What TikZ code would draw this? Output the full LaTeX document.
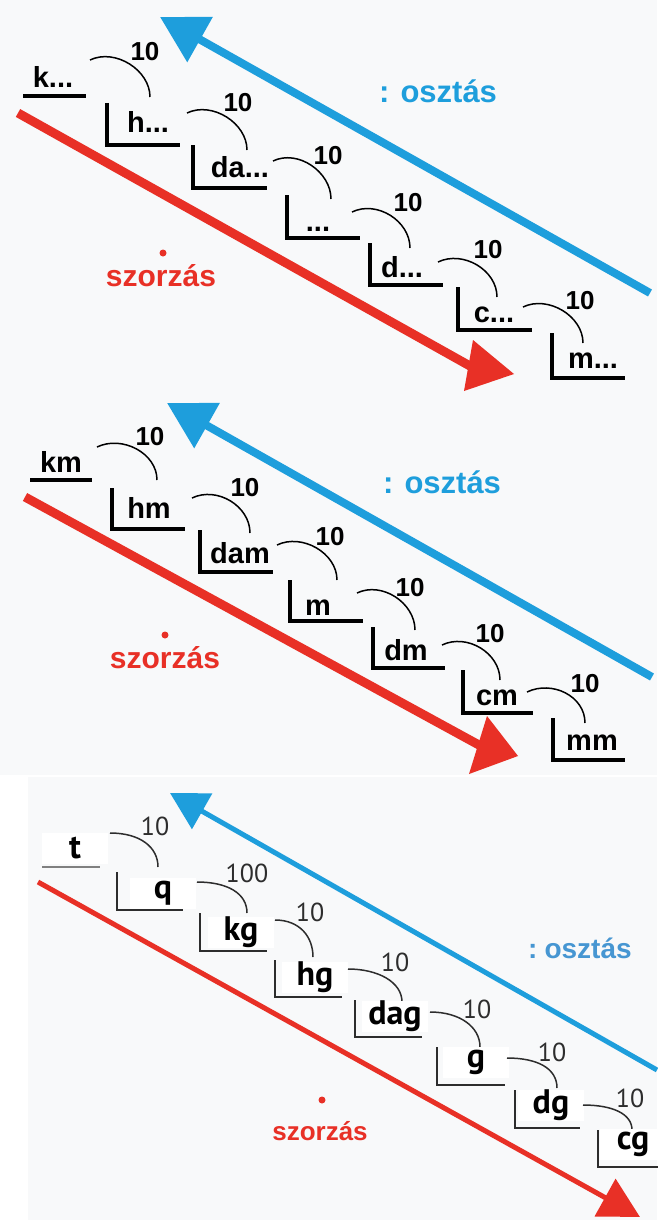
\documentclass[tikz,border=0pt]{standalone}
\usepackage{fontspec}
\setmainfont{Liberation Sans}
\newfontfamily\ptsans{PT Sans}
\usetikzlibrary{arrows.meta}
\definecolor{kek}{RGB}{30,158,220}
\definecolor{halvanykek}{RGB}{70,150,210}
\definecolor{piros}{RGB}{232,48,38}
\definecolor{hatter}{RGB}{248,249,250}
\definecolor{sotet}{RGB}{45,45,45}
\begin{document}
\begin{tikzpicture}[x=1pt,y=-1pt,
  egyseg/.style={font=\fontsize{29}{32}\selectfont\bfseries,anchor=base,inner sep=0pt},
  tiz/.style={font=\fontsize{26}{28}\selectfont\bfseries,inner sep=0pt},
  lepcso/.style={line width=3.2pt},
  ivek/.style={line width=1.5pt},
  oszt/.style={font=\fontsize{31}{34}\selectfont\bfseries,text=kek,anchor=base west,inner sep=0pt},
  szor/.style={font=\fontsize{30}{33}\selectfont\bfseries,text=piros,anchor=base,inner sep=0pt},
  pont/.style={circle,fill=piros,inner sep=0pt,minimum size=7pt},
  felfele/.style={draw=kek,line width=8pt,-{Triangle[length=46pt,width=50pt]}},
  lefele/.style={draw=piros,line width=9pt},
  hegy/.style={fill=piros},
  egyseg3/.style={font={\ptsans\bfseries\fontsize{34}{36}\selectfont},fill=white,minimum width=66pt,minimum height=31pt,inner sep=0pt},
  tiz3/.style={font={\ptsans\fontsize{26}{28}\selectfont},text=sotet,inner sep=0pt},
  lepcso3/.style={draw=sotet,line width=2pt},
  ivek3/.style={draw=sotet,line width=1.5pt},
  felfele3/.style={draw=kek,line width=5pt,-{Triangle[length=37pt,width=40pt]}},
  lefele3/.style={draw=piros,line width=5pt,-{Triangle[length=40pt,width=42pt]}},
  oszt3/.style={font=\fontsize{28}{30}\selectfont\bfseries,text=halvanykek,anchor=base west,inner sep=0pt},
  szor3/.style={font=\fontsize{26}{28}\selectfont\bfseries,text=piros,anchor=base,inner sep=0pt}]
\useasboundingbox (0,0) rectangle (657,1220);
\fill[hatter] (0,0) rectangle (657,775);
\fill[hatter] (28,777) rectangle (657,1220);

\coordinate (kek1a) at (650,293);
\coordinate (kek1b) at (160,17);
\coordinate (piros1a) at (18,113);
\coordinate (piros1b) at (470,366);
\coordinate (hegy1a) at (473,340);
\coordinate (hegy1b) at (514,374);
\coordinate (hegy1c) at (464,391);
\draw[felfele] (kek1a) -- (kek1b);
\draw[lefele] (piros1a) -- (piros1b);
\fill[hegy] (hegy1a) -- (hegy1b) -- (hegy1c) -- cycle;
\node[oszt] (oszt1) at (379,103) {:\hspace{11pt}osztás};
\node[pont] (pont1) at (163,253) {};
\node[szor] (szor1) at (161,286) {szorzás};
\draw[lepcso] (23,96) -- (86,96);
\node[egyseg] (k1) at (53,88) {k...};
\draw[ivek] (90,60) .. controls +(25,-12) and +(0,-27) .. (150,97);
\node[tiz] (k1t) at (145,52) {10};
\draw[lepcso] (107,103) |- (180,145);
\node[egyseg] (h1) at (148,132) {h...};
\draw[ivek] (187,113) .. controls +(25,-12) and +(0,-27) .. (247,150);
\node[tiz] (h1t) at (238,103) {10};
\draw[lepcso] (193,145) |- (267,188);
\node[egyseg] (da1) at (240,177) {da...};
\draw[ivek] (273,161) .. controls +(25,-12) and +(0,-27) .. (331,199);
\node[tiz] (da1t) at (328,156) {10};
\draw[lepcso] (287,195) |- (360,238);
\node[egyseg] (x1) at (318,231) {...};
\draw[ivek] (352,212) .. controls +(25,-12) and +(0,-27) .. (410,248);
\node[tiz] (x1t) at (408,203) {10};
\draw[lepcso] (370,243) |- (443,285);
\node[egyseg] (d1) at (402,277) {d...};
\draw[ivek] (438,262) .. controls +(25,-12) and +(0,-27) .. (497,297);
\node[tiz] (d1t) at (488,250) {10};
\draw[lepcso] (458,287) |- (532,330);
\node[egyseg] (c1) at (494,322) {c...};
\draw[ivek] (523,307) .. controls +(25,-12) and +(0,-27) .. (583,343);
\node[tiz] (c1t) at (580,301) {10};
\draw[lepcso] (552,333) |- (625,378);
\node[egyseg] (m1) at (593,368) {m...};

\coordinate (kek2a) at (652,677);
\coordinate (kek2b) at (167,403);
\coordinate (piros2a) at (25,497);
\coordinate (piros2b) at (479,745);
\coordinate (hegy2a) at (487,716);
\coordinate (hegy2b) at (518,756);
\coordinate (hegy2c) at (469,774);
\draw[felfele] (kek2a) -- (kek2b);
\draw[lefele] (piros2a) -- (piros2b);
\fill[hegy] (hegy2a) -- (hegy2b) -- (hegy2c) -- cycle;
\node[oszt] (oszt2) at (383,493) {:\hspace{11pt}osztás};
\node[pont] (pont2) at (165,635) {};
\node[szor] (szor2) at (165,668) {szorzás};
\draw[lepcso] (30,480) -- (92,480);
\node[egyseg] (km) at (61,472) {km};
\draw[ivek] (97,447) .. controls +(25,-12) and +(0,-27) .. (157,480);
\node[tiz] (kmt) at (150,437) {10};
\draw[lepcso] (112,488) |- (185,529);
\node[egyseg] (hm) at (149,518) {hm};
\draw[ivek] (192,498) .. controls +(25,-12) and +(0,-27) .. (250,533);
\node[tiz] (hmt) at (245,488) {10};
\draw[lepcso] (200,530) |- (273,572);
\node[egyseg] (dam) at (240,563) {dam};
\draw[ivek] (277,545) .. controls +(25,-12) and +(0,-27) .. (337,580);
\node[tiz] (damt) at (330,537) {10};
\draw[lepcso] (290,580) |- (363,621);
\node[egyseg] (m) at (318,615) {m};
\draw[ivek] (357,593) .. controls +(25,-12) and +(0,-27) .. (415,630);
\node[tiz] (mt) at (410,588) {10};
\draw[lepcso] (373,627) |- (445,668);
\node[egyseg] (dm) at (406,660) {dm};
\draw[ivek] (442,645) .. controls +(25,-12) and +(0,-27) .. (500,680);
\node[tiz] (dmt) at (490,634) {10};
\draw[lepcso] (463,670) |- (533,713);
\node[egyseg] (cm) at (497,705) {cm};
\draw[ivek] (527,692) .. controls +(25,-12) and +(0,-27) .. (585,723);
\node[tiz] (cmt) at (585,684) {10};
\draw[lepcso] (553,718) |- (625,760);
\node[egyseg] (mm) at (592,750) {mm};

\coordinate (kek3a) at (657,1070);
\coordinate (kek3b) at (170,793);
\coordinate (piros3a) at (38,882);
\coordinate (piros3b) at (640,1217);
\draw[felfele3] (kek3a) -- (kek3b);
\draw[lefele3] (piros3a) -- (piros3b);
\node[oszt3] (oszt3) at (528,958) {:\hspace{7pt}osztás};
\node[pont] (pont3) at (322,1100) {};
\node[szor3] (szor3) at (320,1140) {szorzás};
\draw[lepcso3,draw=gray] (42,867) -- (100,867);
\node[egyseg3] (t) at (75,848) {t};
\draw[ivek3] (110,833) .. controls +(30,0) and +(0,-20) .. (158,867);
\node[tiz3] (tt) at (155,826) {10};
\draw[lepcso3] (117,872) |- (183,910);
\node[egyseg3] (q) at (163,893) {q};
\draw[ivek3] (197,882) .. controls +(30,0) and +(0,-20) .. (247,913);
\node[tiz3] (qt) at (247,873) {100};
\draw[lepcso3] (200,913) |- (267,951);
\node[egyseg3] (kg) at (241,932) {kg};
\draw[ivek3] (275,920) .. controls +(25,0) and +(0,-20) .. (313,957);
\node[tiz3] (kgt) at (310,912) {10};
\draw[lepcso3] (275,960) |- (342,997);
\node[egyseg3] (hg) at (315,977) {hg};
\draw[ivek3] (348,969) .. controls +(30,0) and +(0,-20) .. (402,1002);
\node[tiz3] (hgt) at (395,962) {10};
\draw[lepcso3] (355,1000) |- (422,1037);
\node[egyseg3] (dag) at (395,1016) {dag};
\draw[ivek3] (430,1012) .. controls +(30,0) and +(0,-20) .. (480,1047);
\node[tiz3] (dagt) at (477,1009) {10};
\draw[lepcso3] (437,1047) |- (505,1085);
\node[egyseg3] (g) at (476,1062) {g};
\draw[ivek3] (507,1058) .. controls +(30,0) and +(0,-20) .. (557,1088);
\node[tiz3] (gt) at (552,1052) {10};
\draw[lepcso3] (515,1090) |- (580,1128);
\node[egyseg3] (dg) at (551,1105) {dg};
\draw[ivek3] (583,1105) .. controls +(30,0) and +(0,-16) .. (632,1130);
\node[tiz3] (dgt) at (630,1098) {10};
\draw[lepcso3] (598,1130) |- (660,1167);
\node[egyseg3] (cg) at (633,1144) {cg};
\end{tikzpicture}
\end{document}
